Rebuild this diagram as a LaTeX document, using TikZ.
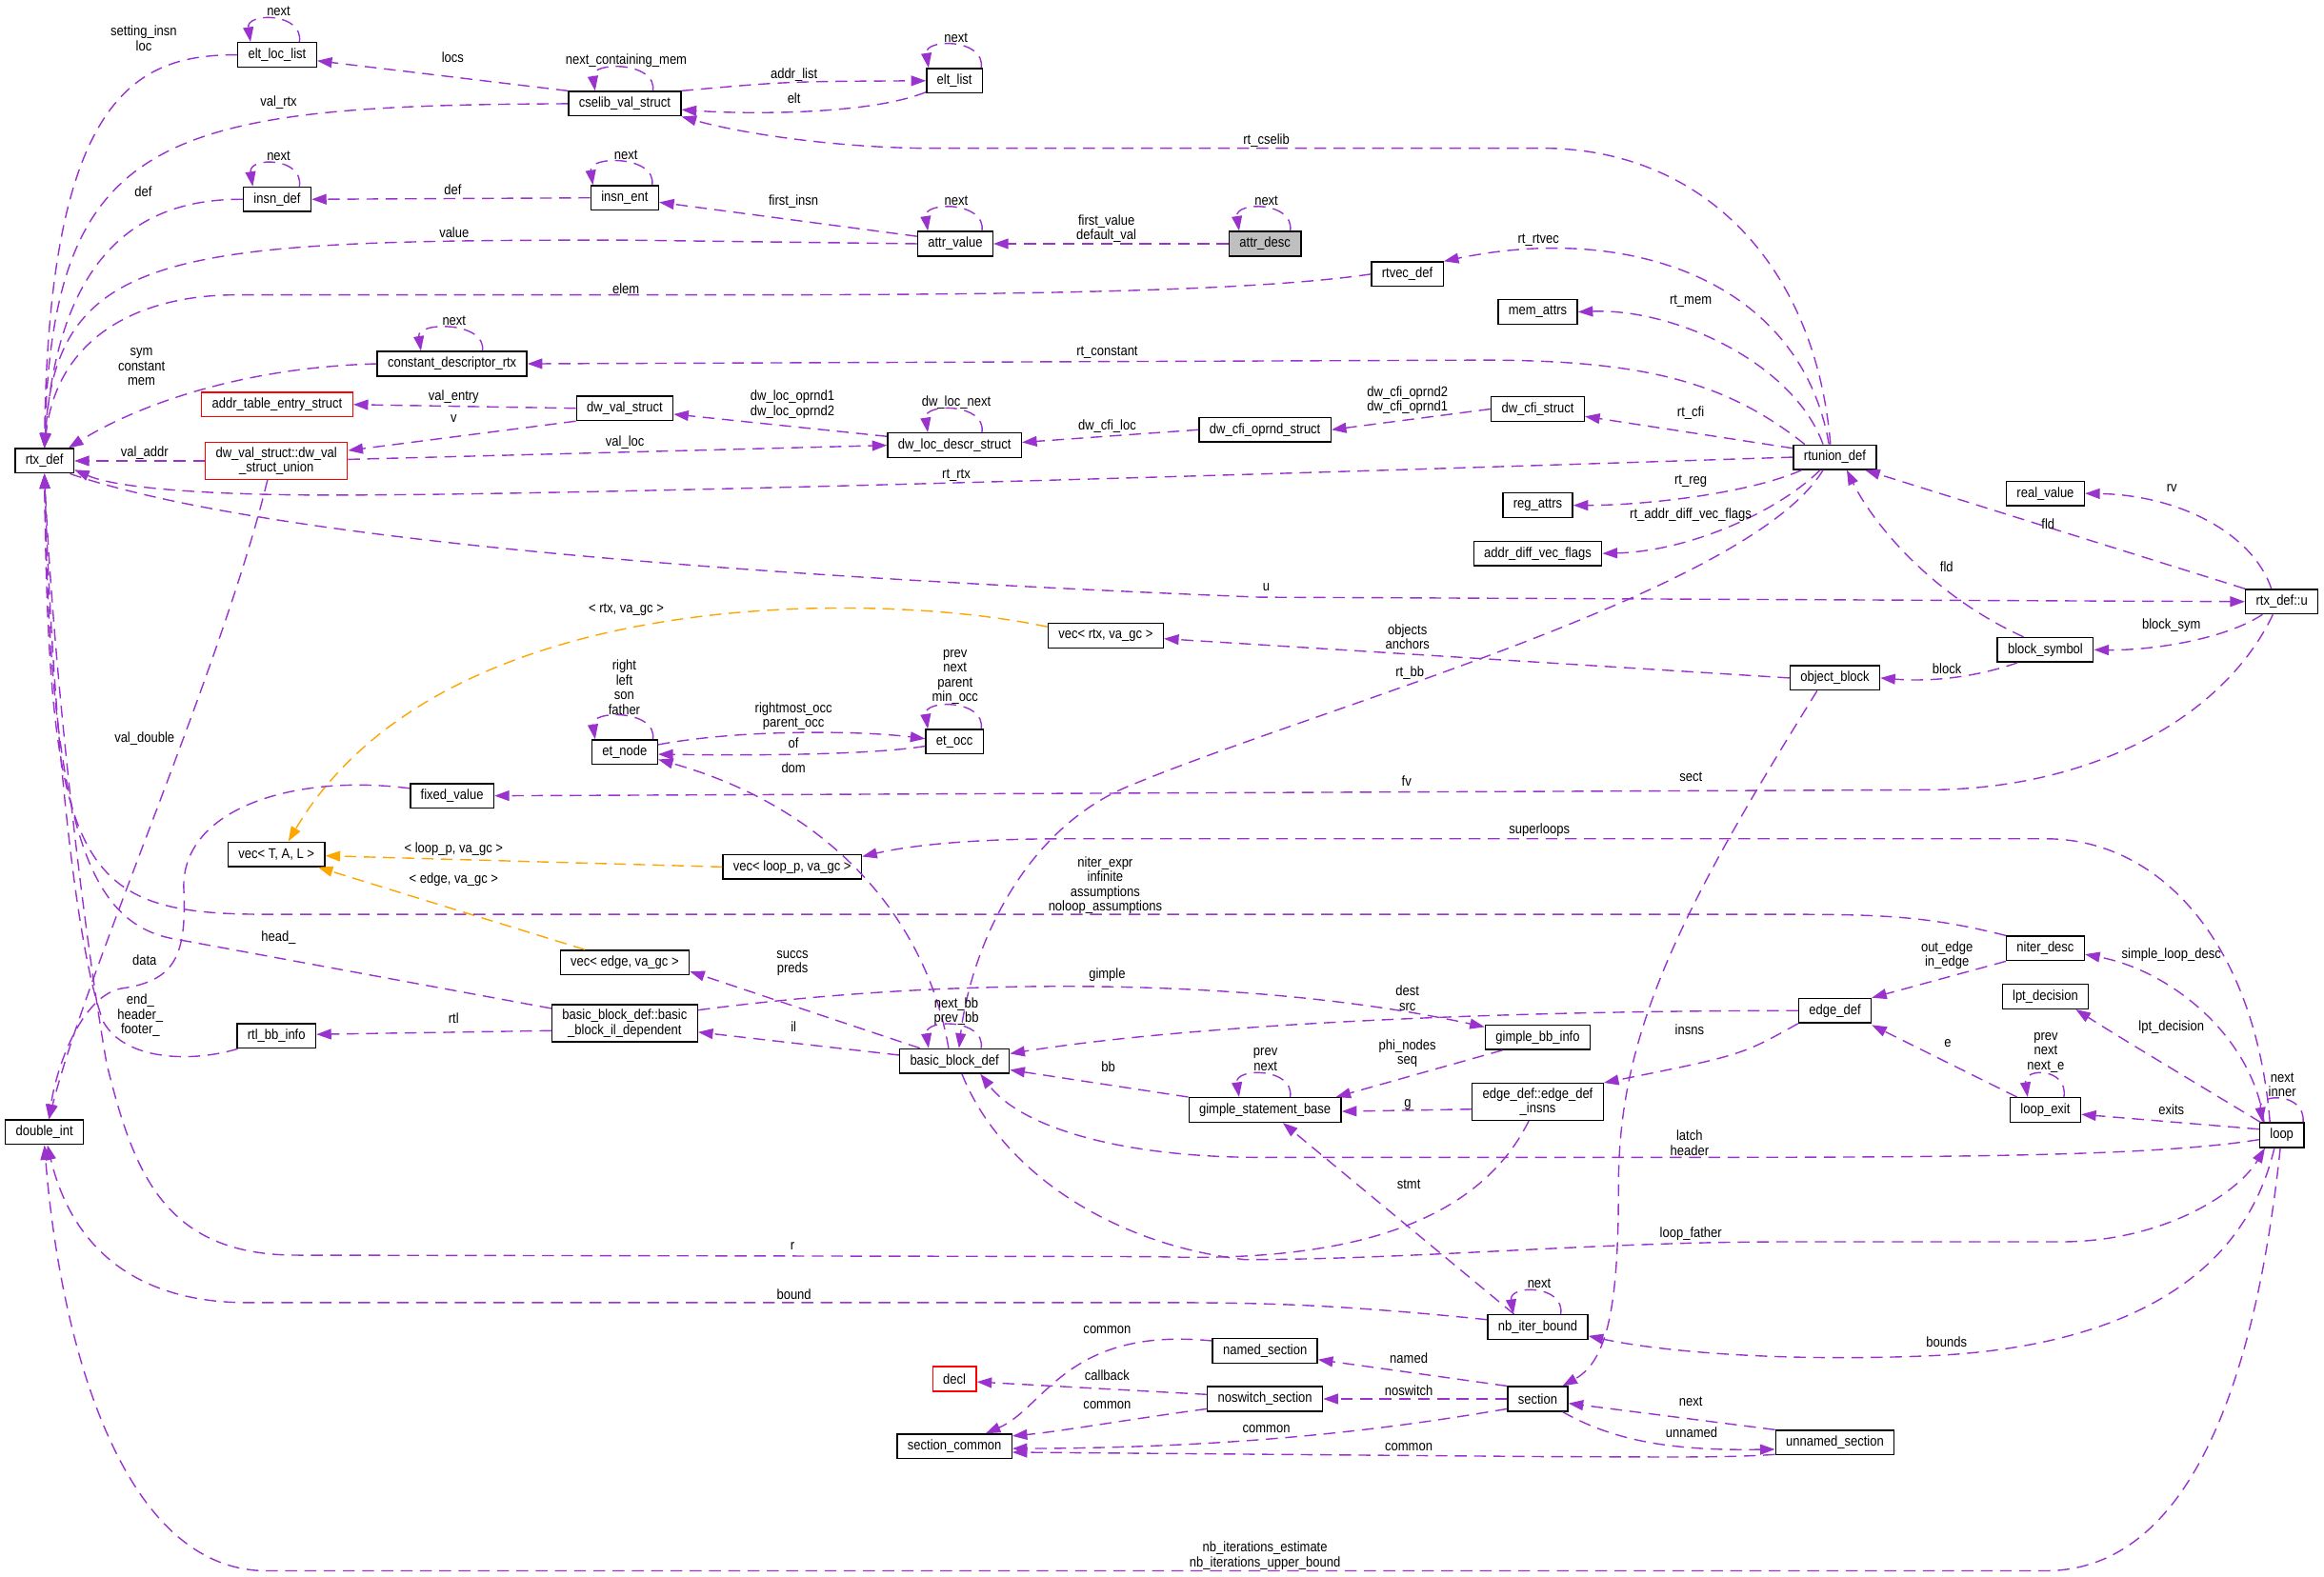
\documentclass[tikz,border=0pt]{standalone}
\usepackage{fontspec}
\setmainfont[FakeStretch=0.88]{Liberation Sans}
\usepackage{tikz}
\usetikzlibrary{arrows.meta,calc}
\definecolor{relpurple}{RGB}{154, 50, 205}
\definecolor{tmplorange}{RGB}{255, 165, 0}
\definecolor{boxred}{RGB}{255, 0, 0}
\definecolor{boxgray}{RGB}{191, 191, 191}

\begin{document}
\begin{tikzpicture}[x=1pt, y=-1pt,
    cls/.style={draw=black, line width=0.9pt, fill=white, inner xsep=7pt,
      inner ysep=3pt, minimum height=16.5pt, align=center,
      font=\fontsize{9.5}{10}\selectfont},
    clsred/.style={cls, draw=boxred},
    clsgray/.style={cls, fill=boxgray},
    rel/.style={draw=relpurple, line width=0.9pt, dash pattern=on 8pt off 5pt,
      -{Triangle[length=10pt, width=7pt]}},
    tmpl/.style={rel, draw=tmplorange},
    lbl/.style={inner sep=0pt, align=center, font=\fontsize{9.5}{10}\selectfont}]

\useasboundingbox (0,0) rectangle (1568,1064);

%% ── CLASS BOXES ──────────────────────────────────────────────────────────────
% left columns
\node[cls] (rtxdef) at (30,311) {rtx\_def};
\node[cls] (doubleint) at (30,764) {double\_int};
\node[cls] (eltloclist) at (187,37) {elt\_loc\_list};
\node[cls] (insndef) at (187,134.5) {insn\_def};
\node[clsred] (addrtable) at (187,273) {addr\_table\_entry\_struct};
\node[clsred] (dwvalunion) at (186.5,311) {dw\_val\_struct::dw\_val\\\_struct\_union};
\node[cls] (vectal) at (186.5,576.5) {vec< T, A, L >};
\node[cls] (rtlbbinfo) at (186.5,699) {rtl\_bb\_info};
\node[cls] (constdesc) at (305,245.5) {constant\_descriptor\_rtx};
\node[cls] (fixedvalue) at (305,537) {fixed\_value};
\node[cls] (cselib) at (421.5,70) {cselib\_val\_struct};
\node[cls] (insnent) at (421.5,133.5) {insn\_ent};
\node[cls] (dwvalstruct) at (421.5,275.5) {dw\_val\_struct};
\node[cls] (etnode) at (421.5,507.5) {et\_node};
\node[cls] (vecedge) at (421.5,649.5) {vec< edge, va\_gc >};
\node[cls] (bbil) at (421.5,690.5) {basic\_block\_def::basic\\\_block\_il\_dependent};
\node[cls] (vecloopp) at (534.5,585) {vec< loop\_p, va\_gc >};

% middle columns
\node[cls] (eltlist) at (644,54.5) {elt\_list};
\node[cls] (attrvalue) at (644.5,164.5) {attr\_value};
\node[cls] (dwlocdescr) at (644,300.5) {dw\_loc\_descr\_struct};
\node[cls] (etocc) at (644,500.5) {et\_occ};
\node[cls] (bbdef) at (644,716) {basic\_block\_def};
\node[clsred] (decl) at (644,930.5) {decl};
\node[cls] (sectioncommon) at (644,976) {section\_common};
\node[cls] (vecrtx) at (746,429) {vec< rtx, va\_gc >};
\node[clsgray] (attrdesc) at (853.5,164.5) {attr\_desc};
\node[cls] (dwcfioprnd) at (853.5,290) {dw\_cfi\_oprnd\_struct};
\node[cls] (gimplestmt) at (853.5,749) {gimple\_statement\_base};
\node[cls] (namedsection) at (853.5,911.5) {named\_section};
\node[cls] (noswitch) at (853.5,944) {noswitch\_section};
\node[cls] (rtvecdef) at (949.5,185) {rtvec\_def};
\node[cls] (memattrs) at (1037.5,210.5) {mem\_attrs};
\node[cls] (dwcfistruct) at (1037.5,276) {dw\_cfi\_struct};
\node[cls] (regattrs) at (1037.5,341) {reg\_attrs};
\node[cls] (addrdiff) at (1037.5,373.5) {addr\_diff\_vec\_flags};
\node[cls] (gimplebbinfo) at (1037.5,700) {gimple\_bb\_info};
\node[cls] (edgeinsns) at (1037.5,743.5) {edge\_def::edge\_def\\\_insns};
\node[cls] (nbiterbound) at (1037.5,895.5) {nb\_iter\_bound};
\node[cls] (section) at (1037.5,944) {section};

% right columns
\node[cls] (rtuniondef) at (1238,308.5) {rtunion\_def};
\node[cls] (objectblock) at (1238,457.5) {object\_block};
\node[cls] (edgedef) at (1238,682) {edge\_def};
\node[cls] (unnamed) at (1238,973.5) {unnamed\_section};
\node[cls] (realvalue) at (1380,333) {real\_value};
\node[cls] (blocksymbol) at (1380,438.5) {block\_symbol};
\node[cls] (niterdesc) at (1380,640) {niter\_desc};
\node[cls] (lptdecision) at (1380,672.5) {lpt\_decision};
\node[cls] (loopexit) at (1380,749) {loop\_exit};
\node[cls] (rtxdefu) at (1539.5,406) {rtx\_def::u};
\node[cls] (loop) at (1539.5,766) {loop};

%% ── SELF LOOPS ───────────────────────────────────────────────────────────────
\draw[rel] ($(eltloclist.north)+(15,0)$) .. controls +(3,-20) and +(-3,-20) .. ($(eltloclist.north)+(-18,0)$);
\draw[rel] ($(cselib.north)+(19,0)$) .. controls +(3,-20) and +(-3,-20) .. ($(cselib.north)+(-20,0)$);
\draw[rel] ($(eltlist.north)+(18,0)$) .. controls +(3,-20) and +(-3,-20) .. ($(eltlist.north)+(-17.5,0)$);
\draw[rel] ($(insndef.north)+(15,0)$) .. controls +(3,-20) and +(-3,-20) .. ($(insndef.north)+(-16.5,0)$);
\draw[rel] ($(insnent.north)+(18.5,0)$) .. controls +(3,-20) and +(-3,-20) .. ($(insnent.north)+(-21.5,0)$);
\draw[rel] ($(attrvalue.north)+(18,0)$) .. controls +(3,-20) and +(-3,-20) .. ($(attrvalue.north)+(-18.5,0)$);
\draw[rel] ($(attrdesc.north)+(17,0)$) .. controls +(3,-20) and +(-3,-20) .. ($(attrdesc.north)+(-17.5,0)$);
\draw[rel] ($(constdesc.north)+(20.5,0)$) .. controls +(3,-20) and +(-3,-20) .. ($(constdesc.north)+(-21,0)$);
\draw[rel] ($(dwlocdescr.north)+(18.5,0)$) .. controls +(3,-20) and +(-3,-20) .. ($(dwlocdescr.north)+(-18,0)$);
\draw[rel] ($(etnode.north)+(19,0)$) .. controls +(3,-20) and +(-3,-20) .. ($(etnode.north)+(-20,0)$);
\draw[rel] ($(etocc.north)+(18,0)$) .. controls +(3,-20) and +(-3,-20) .. ($(etocc.north)+(-18,0)$);
\draw[rel] ($(bbdef.north)+(18,0)$) .. controls +(3,-20) and +(-3,-20) .. ($(bbdef.north)+(-17.5,0)$);
\draw[rel] ($(gimplestmt.north)+(17,0)$) .. controls +(3,-20) and +(-3,-20) .. ($(gimplestmt.north)+(-17.5,0)$);
\draw[rel] ($(loopexit.north)+(12.5,0)$) .. controls +(3,-20) and +(-3,-20) .. ($(loopexit.north)+(-12,0)$);
\draw[rel] ($(nbiterbound.north)+(15.5,0)$) .. controls +(3,-20) and +(-3,-20) .. ($(nbiterbound.north)+(-16.5,0)$);
\draw[rel] ($(loop.north east)+(-1,0)$) .. controls +(2,-20) and +(-3,-20) .. ($(loop.north)+(-13,0)$);

%% ── EDGES INTO rtx_def (top) ─────────────────────────────────────────────────
\draw[rel] (eltloclist.west) .. controls (95,37) and (33,60) .. (rtxdef.north);
\draw[rel] (cselib.west) .. controls (110,71) and (36,90) .. (rtxdef.north);
\draw[rel] (insndef.west) .. controls (100,134) and (40,165) .. (rtxdef.north);
\draw[rel] (attrvalue.west) -- (420,162) .. controls (120,162) and (38,168) .. (rtxdef.north);
\draw[rel] (rtvecdef.west) .. controls (850,196) and (700,199) .. (500,199) -- (160,199)
  .. controls (90,199) and (38,230) .. (rtxdef.north);
\draw[rel] (constdesc.west) .. controls (160,248) and (90,275) .. ($(rtxdef.north east)+(-4,0)$);

%% ── UPPER CLUSTER ────────────────────────────────────────────────────────────
\draw[rel] (cselib.north west) -- ($(eltloclist.east)+(0,4)$);
\draw[rel] (cselib.north east) .. controls (530,55) .. (eltlist.west);
\draw[rel] ($(eltlist.south west)+(0,-1)$) .. controls (585,78) and (500,77) .. ($(cselib.east)+(0,4)$);
\draw[rel] (insnent.west) -- (insndef.east);
\draw[rel] ($(attrvalue.west)+(0,-5)$) -- ($(insnent.east)+(0,3)$);
\draw[rel] (attrdesc.west) -- (attrvalue.east);

% rtunion_def fan
\draw[rel] ($(rtuniondef.north)+(-3,0)$) .. controls (1225,180) and (1150,100) .. (1040,100)
  -- (620,100) .. controls (560,99) and (500,90) .. (cselib.south east);
\draw[rel] ($(rtuniondef.north)+(-4,0)$) .. controls (1215,190) and (1100,150) .. (rtvecdef.north east);
\draw[rel] ($(rtuniondef.north)+(-8,0)$) .. controls (1210,245) and (1130,208) .. (memattrs.east);
\draw[rel] ($(rtuniondef.north west)+(8,0)$) .. controls (1165,258) and (1110,243) .. (1000,243)
  -- (constdesc.east);
\draw[rel] ($(rtuniondef.west)+(0,-6)$) -- ($(dwcfistruct.east)+(0,5)$);
\draw[rel] (rtuniondef.west) .. controls (800,322) and (420,333) .. (250,334)
  .. controls (150,335) and (80,330) .. ($(rtxdef.east)+(0,6)$);
\draw[rel] ($(rtuniondef.south west)+(6,0)$) .. controls (1180,333) and (1110,341) .. (regattrs.east);
\draw[rel] ($(rtuniondef.south)+(-10,0)$) .. controls (1200,345) and (1140,372) .. (addrdiff.east);
\draw[rel] ($(rtuniondef.south)+(-8,0)$) .. controls (1180,400) and (880,480) .. (758,532)
  .. controls (690,562) and (655,640) .. ($(bbdef.north)+(3,0)$);

% dwarf structs
\draw[rel] (dwvalstruct.west) -- (addrtable.east);
\draw[rel] (dwvalstruct.south west) -- ($(dwvalunion.east)+(0,-7)$);
\draw[rel] (dwvalunion.west) -- (rtxdef.east);
\draw[rel] ($(dwvalunion.east)+(0,-1)$) -- (dwlocdescr.west);
\draw[rel] ($(dwlocdescr.west)+(0,-6)$) -- ($(dwvalstruct.east)+(0,4)$);
\draw[rel] (dwcfioprnd.west) -- ($(dwlocdescr.east)+(0,-2)$);
\draw[rel] (dwcfistruct.west) -- (dwcfioprnd.east);
\draw[rel] ($(dwvalunion.south)+(-6,0)$) .. controls (150,450) and (60,650) .. ($(doubleint.north)+(3,0)$);

%% ── rtx_def::u ───────────────────────────────────────────────────────────────
\draw[rel] ($(rtxdef.south east)+(-3,0)$) .. controls (150,355) and (400,385) .. (850,403)
  -- (rtxdefu.west);
\draw[rel] (rtxdefu.north west) -- ($(rtuniondef.south east)+(-8,0)$);
\draw[rel] ($(rtxdefu.north)+(-7,0)$) .. controls (1520,360) and (1470,334) .. (realvalue.east);
\draw[rel] ($(blocksymbol.north west)+(18,0)$) .. controls (1300,400) and (1262,350) .. ($(rtuniondef.south)+(8,0)$);
\draw[rel] ($(rtxdefu.south)+(-13,0)$) .. controls (1500,432) and (1450,439) .. (blocksymbol.east);
\draw[rel] ($(blocksymbol.south west)+(14,0)$) .. controls (1330,458) and (1300,460) .. (objectblock.east);
\draw[rel] (objectblock.west) -- ($(vecrtx.east)+(0,2)$);
\draw[rel] ($(rtxdefu.south)+(-6,0)$) .. controls (1500,485) and (1410,533) .. (1300,533)
  -- (fixedvalue.east);
\draw[rel] ($(objectblock.south)+(-12,0)$) .. controls (1130,620) and (1092,700) .. (1092,800)
  .. controls (1092,880) and (1085,918) .. ($(section.north east)+(-4,0)$);

%% ── TEMPLATE INSTANCES ───────────────────────────────────────────────────────
\draw[tmpl] ($(vecrtx.west)+(0,-6)$) .. controls (600,400) and (300,390) .. ($(vectal.north)+(8,0)$);
\draw[tmpl] (vecloopp.west) -- ($(vectal.east)+(0,1)$);
\draw[tmpl] ($(vecedge.north west)+(17,0)$) -- ($(vectal.south east)+(-5,0)$);

%% ── et / fixed_value ─────────────────────────────────────────────────────────
\draw[rel] ($(etnode.east)+(0,-5)$) .. controls (500,492) and (580,493) .. ($(etocc.west)+(0,-2)$);
\draw[rel] ($(etocc.west)+(0,3)$) .. controls (590,509) and (520,510) .. ($(etnode.east)+(0,1.5)$);
\draw[rel] ($(bbdef.north)+(-4,0)$) .. controls (625,620) and (560,545) .. ($(etnode.east)+(0,5)$);
\draw[rel] ($(fixedvalue.west)+(0,-5)$) .. controls (200,522) and (122,545) .. (124,600)
  .. controls (126,645) and (118,662) .. (82,667) .. controls (55,672) and (38,720) .. ($(doubleint.north)+(3,0)$);

%% ── BASIC BLOCKS AND LOOPS ───────────────────────────────────────────────────
\draw[rel] ($(loop.north)+(-8,0)$) .. controls (1522,640) and (1460,566) .. (1380,566)
  -- (720,566) .. controls (650,566) and (612,571) .. ($(vecloopp.east)+(0,-7)$);
\draw[rel] (niterdesc.north west) .. controls (1300,618) and (1270,617) .. (1200,617)
  -- (180,617) .. controls (55,617) and (33,590) .. (rtxdef.south);
\draw[rel] ($(bbdef.north west)+(14,0)$) -- ($(vecedge.east)+(0,6)$);
\draw[rel] ($(bbil.west)+(0,-10)$) -- (120,634) .. controls (60,625) and (34,560) .. (rtxdef.south);
\draw[rel] ($(bbil.north east)+(0,4)$) .. controls (650,658) and (850,660) .. ($(gimplebbinfo.west)+(0,-7)$);
\draw[rel] ($(bbil.west)+(0,5)$) -- ($(rtlbbinfo.east)+(0,-1)$);
\draw[rel] ($(rtlbbinfo.south west)+(1,0)$) .. controls (130,717) and (85,716) .. (70,690)
  .. controls (52,645) and (36,500) .. (rtxdef.south);
\draw[rel] ($(bbdef.west)+(0,-4)$) -- ($(bbil.east)+(0,6)$);
\draw[rel] (edgedef.west) .. controls (1000,682) and (800,692) .. ($(bbdef.east)+(0,-5)$);
\draw[rel] (niterdesc.south west) -- (edgedef.north east);
\draw[rel] ($(loop.north)+(-12,0)$) .. controls (1520,700) and (1465,655) .. ($(niterdesc.east)+(0,4)$);
\draw[rel] ($(loop.north west)+(1,0)$) .. controls (1480,730) and (1430,700) .. ($(lptdecision.south east)+(-9,0)$);
\draw[rel] ($(loopexit.north west)+(5,0)$) -- ($(edgedef.south east)+(0,1)$);
\draw[rel] ($(loop.west)+(0,-4)$) -- ($(loopexit.east)+(0,3)$);
\draw[rel] ($(gimplebbinfo.south west)+(12,0)$) -- ($(gimplestmt.north east)+(-4,0)$);
\draw[rel] (gimplestmt.north west) -- ($(bbdef.east)+(0,6)$);
\draw[rel] (edgedef.south west) .. controls (1175,712) .. (edgeinsns.north east);
\draw[rel] ($(edgeinsns.west)+(0,5)$) -- ($(gimplestmt.east)+(0,1)$);
\draw[rel] ($(loop.west)+(0,3)$) .. controls (1450,781) and (1300,781) .. (1100,781)
  -- (850,781) .. controls (760,781) and (690,762) .. ($(bbdef.south east)+(-20,0)$);
\draw[rel] ($(edgeinsns.south)+(-6,0)$) .. controls (995,830) and (900,852) .. (780,848)
  -- (200,847) .. controls (110,847) and (90,790) .. (72,718) .. controls (55,620) and (36,450) .. (rtxdef.south);
\draw[rel] ($(bbdef.south)+(5,0)$) .. controls (675,790) and (750,840) .. (840,850)
  .. controls (950,850) and (1080,838) .. (1200,838) -- (1390,838)
  .. controls (1460,838) and (1510,805) .. ($(loop.south west)+(4,0)$);
\draw[rel] ($(loop.south)+(-1,0)$) .. controls (1520,950) and (1470,1060) .. (1380,1060)
  -- (180,1060) .. controls (80,1060) and (40,900) .. (doubleint.south);
\draw[rel] ($(nbiterbound.west)+(0,-5)$) .. controls (900,880) and (850,879) .. (780,879)
  -- (170,879) .. controls (90,880) and (48,840) .. ($(doubleint.south)+(2,0)$);
\draw[rel] ($(nbiterbound.north)+(-16,0)$) -- ($(gimplestmt.south)+(12,0)$);
\draw[rel] ($(loop.south)+(-5,0)$) .. controls (1512,870) and (1420,910) .. (1300,915)
  .. controls (1200,919) and (1120,912) .. ($(nbiterbound.east)+(0,6)$);

%% ── SECTIONS ─────────────────────────────────────────────────────────────────
\draw[rel] (section.north west) -- ($(namedsection.east)+(0,6)$);
\draw[rel] (section.west) -- (noswitch.east);
\draw[rel] ($(section.south west)+(0,-2)$) .. controls (950,962) and (850,977) .. ($(sectioncommon.east)+(0,1.5)$);
\draw[rel] (unnamed.north west) -- ($(section.east)+(0,3)$);
\draw[rel] ($(section.south east)+(-4,0)$) .. controls (1090,973) and (1130,979) .. ($(unnamed.west)+(0,4.5)$);
\draw[rel] ($(unnamed.west)+(0,8)$) .. controls (1160,984) and (1120,983) .. (1050,983)
  -- ($(sectioncommon.east)+(0,4)$);
\draw[rel] ($(namedsection.north west)+(0,2)$) .. controls (720,895) and (705,950) .. ($(sectioncommon.north)+(21,0)$);
\draw[rel] ($(noswitch.south west)+(0,-2)$) .. controls (760,958) and (715,966) .. ($(sectioncommon.east)+(0,-7)$);
\draw[rel] ($(noswitch.west)+(0,-3)$) -- ($(decl.east)+(0,2)$);

%% ── EDGE LABELS ──────────────────────────────────────────────────────────────
\node[lbl] (l-eltloc-next) at (188,7.6) {next};
\node[lbl] (l-setting) at (97,25.8) {setting\_insn\\loc};
\node[lbl] (l-locs) at (305.5,39) {locs};
\node[lbl] (l-ncm) at (422.5,41) {next\_containing\_mem};
\node[lbl] (l-valrtx) at (188,69.3) {val\_rtx};
\node[lbl] (l-eltlist-next) at (645,25.7) {next};
\node[lbl] (l-addrlist) at (535.7,50.5) {addr\_list};
\node[lbl] (l-elt) at (535.7,66.6) {elt};
\node[lbl] (l-rtcselib) at (854.4,94.8) {rt\_cselib};
\node[lbl] (l-insndef-next) at (188,105) {next};
\node[lbl] (l-def1) at (96.7,129) {def};
\node[lbl] (l-def2) at (305.5,128.1) {def};
\node[lbl] (l-insnent-next) at (422.3,104.7) {next};
\node[lbl] (l-firstinsn) at (535.4,136.1) {first\_insn};
\node[lbl] (l-attrvalue-next) at (645.2,135.4) {next};
\node[lbl] (l-firstvalue) at (746.5,154.3) {first\_value\\default\_val};
\node[lbl] (l-attrdesc-next) at (854.4,135.4) {next};
\node[lbl] (l-value) at (306.4,156.8) {value};
\node[lbl] (l-rtrtvec) at (1038,161.8) {rt\_rtvec};
\node[lbl] (l-elem) at (422.3,194.6) {elem};
\node[lbl] (l-rtmem) at (1140.7,203.1) {rt\_mem};
\node[lbl] (l-constdesc-next) at (306.4,216.4) {next};
\node[lbl] (l-rtconstant) at (747,238.2) {rt\_constant};
\node[lbl] (l-sym) at (95.5,247.6) {sym\\constant\\mem};
\node[lbl] (l-valentry) at (306.1,267.9) {val\_entry};
\node[lbl] (l-v) at (306.1,282.8) {v};
\node[lbl] (l-oprnd) at (534.7,272.8) {dw\_loc\_oprnd1\\dw\_loc\_oprnd2};
\node[lbl] (l-locnext) at (645.2,271.8) {dw\_loc\_next};
\node[lbl] (l-cfioprnd) at (949.6,270) {dw\_cfi\_oprnd2\\dw\_cfi\_oprnd1};
\node[lbl] (l-rtcfi) at (1140.7,278.4) {rt\_cfi};
\node[lbl] (l-cfiloc) at (747,287.6) {dw\_cfi\_loc};
\node[lbl] (l-valaddr) at (97.5,305.7) {val\_addr};
\node[lbl] (l-valloc) at (421.7,298.4) {val\_loc};
\node[lbl] (l-rtrtx) at (645.2,320.9) {rt\_rtx};
\node[lbl] (l-rtreg) at (1140.7,324.8) {rt\_reg};
\node[lbl] (l-rv) at (1465.3,329.4) {rv};
\node[lbl] (l-rtaddr) at (1140.7,347.7) {rt\_addr\_diff\_vec\_flags};
\node[lbl] (l-fld1) at (1381.8,353.5) {fld};
\node[lbl] (l-fld2) at (1313.4,382.7) {fld};
\node[lbl] (l-u) at (854.4,396.5) {u};
\node[lbl] (l-vecrtx) at (422.5,411.7) {< rtx, va\_gc >};
\node[lbl] (l-blocksym) at (1465,421.9) {block\_sym};
\node[lbl] (l-objects) at (949.6,429.6) {objects\\anchors};
\node[lbl] (l-block) at (1313.6,451.1) {block};
\node[lbl] (l-rtbb) at (951.2,454) {rt\_bb};
\node[lbl] (l-etocc-next) at (644.4,456.9) {prev\\next\\parent\\min\_occ};
\node[lbl] (l-etnode-next) at (421.2,463.9) {right\\left\\son\\father};
\node[lbl] (l-rightmost) at (535.4,483.5) {rightmost\_occ\\parent\_occ};
\node[lbl] (l-valdouble) at (97.5,498.5) {val\_double};
\node[lbl] (l-of) at (535.4,501.6) {of};
\node[lbl] (l-dom) at (535.4,518.2) {dom};
\node[lbl] (l-sect) at (1140.8,524) {sect};
\node[lbl] (l-fv) at (949,527) {fv};
\node[lbl] (l-superloops) at (1038.6,560) {superloops};
\node[lbl] (l-vecloopp) at (306.1,572.9) {< loop\_p, va\_gc >};
\node[lbl] (l-vecedge) at (306.1,593.4) {< edge, va\_gc >};
\node[lbl] (l-niter) at (745.7,597.5) {niter\_expr\\infinite\\assumptions\\noloop\_assumptions};
\node[lbl] (l-head) at (187.9,632.5) {head\_};
\node[lbl] (l-outedge) at (1313.6,644.7) {out\_edge\\in\_edge};
\node[lbl] (l-simple) at (1465,644.2) {simple\_loop\_desc};
\node[lbl] (l-data) at (97.5,647.8) {data};
\node[lbl] (l-succs) at (534.7,650) {succs\\preds};
\node[lbl] (l-gimple) at (747,658) {gimple};
\node[lbl] (l-dest) at (949.6,673.7) {dest\\src};
\node[lbl] (l-nextbb) at (645.2,682.5) {next\_bb\\prev\_bb};
\node[lbl] (l-end) at (94.7,685.3) {end\_\\header\_\\footer\_};
\node[lbl] (l-rtl) at (306.1,687) {rtl};
\node[lbl] (l-il) at (535.4,693) {il};
\node[lbl] (l-lpt) at (1465,693) {lpt\_decision};
\node[lbl] (l-insns) at (1139.9,694.6) {insns};
\node[lbl] (l-e) at (1314.2,704.3) {e};
\node[lbl] (l-loopexit-next) at (1380.3,710.4) {prev\\next\\next\_e};
\node[lbl] (l-phi) at (949.6,710.8) {phi\_nodes\\seq};
\node[lbl] (l-gimplestmt-next) at (853.8,715) {prev\\next};
\node[lbl] (l-bb) at (747.7,720) {bb};
\node[lbl] (l-loop-next) at (1539.8,732) {next\\inner};
\node[lbl] (l-g) at (949.8,745.2) {g};
\node[lbl] (l-exits) at (1465,748.6) {exits};
\node[lbl] (l-latch) at (1139.9,771.2) {latch\\header};
\node[lbl] (l-stmt) at (950.5,799) {stmt};
\node[lbl] (l-loopfather) at (1140.8,832.7) {loop\_father};
\node[lbl] (l-r) at (534.7,841) {r};
\node[lbl] (l-nbiter-next) at (1038.5,866.2) {next};
\node[lbl] (l-bound) at (535.7,873.7) {bound};
\node[lbl] (l-common1) at (747,897.5) {common};
\node[lbl] (l-bounds) at (1313.4,905.3) {bounds};
\node[lbl] (l-named) at (950.5,916.7) {named};
\node[lbl] (l-callback) at (747,928.3) {callback};
\node[lbl] (l-noswitch) at (950.5,938.5) {noswitch};
\node[lbl] (l-next-sec) at (1140.8,945.8) {next};
\node[lbl] (l-common2) at (747,948.5) {common};
\node[lbl] (l-common3) at (854.4,964.6) {common};
\node[lbl] (l-unnamed) at (1141.3,966.7) {unnamed};
\node[lbl] (l-common4) at (950.5,976.7) {common};
\node[lbl] (l-nbiters) at (853.5,1050) {nb\_iterations\_estimate\\nb\_iterations\_upper\_bound};

\end{tikzpicture}
\end{document}
